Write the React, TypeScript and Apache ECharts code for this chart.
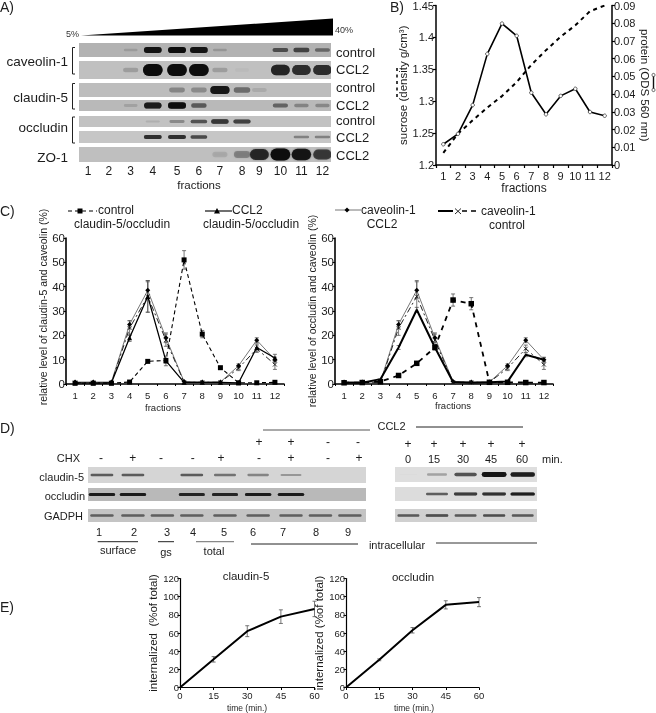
import React, { useEffect, useRef } from "react";
import * as echarts from "echarts";

const FONT = '"Liberation Sans", Arial, sans-serif';
const INK = "#1c1c1c";

// Panel A
const laneA = [1, 1.97, 2.99, 4.02, 5.15, 6.17, 7.15, 8.18, 8.99, 9.97, 10.95, 11.93];
const cavControl = [0, 0, 0.15, 0.95, 1, 0.95, 0.18, 0, 0, 0.55, 0.6, 0.42];
const cavCCL2 = [0, 0, 0.2, 1, 1, 1, 0.2, 0.05, 0, 0.85, 0.8, 0.8];
const claControl = [0, 0, 0, 0, 0.3, 0.28, 0.92, 0.42, 0.12, 0, 0, 0];
const claCCL2 = [0, 0, 0.15, 0.9, 1, 0.5, 0, 0, 0, 0.45, 0.3, 0.28];
const occControl = [0, 0, 0, 0.12, 0.3, 0.55, 0.75, 0.7, 0, 0, 0, 0];
const occCCL2 = [0, 0, 0, 0.8, 0.8, 0.6, 0, 0, 0, 0, 0.35, 0.35];
const zoCCL2 = [0, 0, 0, 0, 0, 0, 0.15, 0.35, 0.85, 1, 0.95, 0.75];

// Panel B
const fractions = ["1", "2", "3", "4", "5", "6", "7", "8", "9", "10", "11", "12"];
const sucrose = [1.219, 1.249, 1.27, 1.29, 1.308, 1.33, 1.357, 1.38, 1.401, 1.419, 1.441, 1.45];
const protein = [0.0117, 0.0176, 0.0338, 0.0627, 0.0798, 0.0729, 0.0408, 0.0286, 0.039, 0.043, 0.0299, 0.0278];

// Panel C
const ctrlClaudin = [0.3, 0.3, 0.3, 0.8, 9.3, 9.7, 51, 20.5, 6.7, 0.5, 0.5, 0.7];
const ctrlClaudinErr = [0, 0, 0, 0, 0, 0, 3.8, 1.5, 0, 0, 0, 0];
const ccl2Claudin = [0.5, 0.5, 0.5, 19, 36, 9.5, 0.7, 0.7, 0.7, 0.5, 15, 10.7];
const ccl2ClaudinErr = [0, 0, 0, 1.5, 6.5, 2, 0, 0, 0, 0, 1.5, 1.5];
const cavCcl2Line = [0.8, 0.8, 0.8, 24.5, 38.5, 19, 1, 0.8, 0.8, 7.5, 18, 10];
const cavCcl2Err = [0, 0, 0, 1.5, 3.5, 2, 0, 0, 0, 0.8, 1, 1];
const cavCtrlLine = [0.5, 0.5, 0.5, 23, 36, 18, 0.7, 0.7, 0.7, 6.5, 14.5, 8];
const cavCtrlErr = [0, 0, 0, 3, 6.5, 2.5, 0, 0, 0, 1, 1.5, 2];
const ctrlOccludin = [0.5, 0.6, 1, 3.5, 8.5, 15, 34.5, 33, 0.7, 0.7, 0.6, 0.6];
const ctrlOccludinErr = [0, 0, 0, 0, 0, 0, 2.5, 2.5, 0, 0, 0, 0];
const ccl2Occludin = [0.5, 0.5, 2, 15, 30.5, 15, 0.8, 0.5, 0.7, 1, 12, 10];
const ccl2OccludinErr = [0, 0, 0, 0.8, 1, 1, 0, 0, 0, 0, 0.8, 0.8];

// Panel D
const laneD = [1, 2, 2.95, 3.9, 4.97, 6.04, 7.1, 8.05, 9];
const dClaudin = [0.55, 0.55, 0, 0.55, 0.45, 0.38, 0.3, 0, 0];
const dOccludin = [0.9, 0.9, 0, 0.85, 0.85, 0.9, 0.9, 0, 0];
const dGadph = [0.5, 0.5, 0.5, 0.5, 0.5, 0.5, 0.5, 0.5, 0.5];
const timeLabels = ["0", "15", "30", "45", "60"];
const laneT = [1, 2, 3, 4, 5];
const tClaudin = [0.02, 0.28, 0.6, 0.95, 0.9];
const tOccludin = [0, 0.55, 0.75, 0.8, 0.9];
const tGadph = [0.55, 0.65, 0.55, 0.6, 0.55];

// Panel E
const times = [0, 15, 30, 45, 60];
const eClaudin = [0, 31, 62, 78, 86.5];
const eClaudinErr = [0, 3, 6, 7.5, 8.5];
const eOccludin = [0, 30.5, 63, 91, 94];
const eOccludinErr = [0, 1, 3, 4.5, 5];

const lineStyleAxis = (width = 1.5) => ({ color: "#000", width });

function errSeries(xi: number, yi: number, xs: number[], vals: number[], errs: number[], color: string) {
  const data = vals.map((v, i) => [xs[i], v, errs[i]]).filter((d) => d[2] > 0);
  return {
    type: "custom",
    xAxisIndex: xi,
    yAxisIndex: yi,
    silent: true,
    z: 2,
    encode: { x: 0, y: 1 },
    data,
    renderItem: (_p: any, api: any) => {
      const x = api.value(0), v = api.value(1), e = api.value(2);
      const a = api.coord([x, v + e]);
      const b = api.coord([x, v - e]);
      const st = { stroke: color, lineWidth: 0.8 };
      const cap = 2;
      return {
        type: "group",
        children: [
          { type: "line", shape: { x1: a[0], y1: a[1], x2: b[0], y2: b[1] }, style: st },
          { type: "line", shape: { x1: a[0] - cap, y1: a[1], x2: a[0] + cap, y2: a[1] }, style: st },
          { type: "line", shape: { x1: b[0] - cap, y1: b[1], x2: b[0] + cap, y2: b[1] }, style: st },
        ],
      };
    },
  };
}

function buildOption() {
  const grid: any[] = [], xAxis: any[] = [], yAxis: any[] = [], series: any[] = [], g: any[] = [];

  const addGrid = (gr: any, x: any, y: any) => {
    grid.push(gr);
    const gi = grid.length - 1;
    xAxis.push({ ...x, gridIndex: gi });
    yAxis.push({ ...y, gridIndex: gi });
    return { x: xAxis.length - 1, y: yAxis.length - 1 };
  };

  const T = (text: string, x: number, y: number, size: number, align = "left", fill = INK) =>
    g.push({
      type: "text",
      x,
      y,
      silent: true,
      style: { text, fill, textAlign: align, textVerticalAlign: "middle", verticalAlign: "middle", font: `${size}px ${FONT}` },
    });
  const L = (x1: number, y1: number, x2: number, y2: number, stroke = "#222", lineWidth = 1, lineDash?: number[]) =>
    g.push({ type: "line", silent: true, shape: { x1, y1, x2, y2 }, style: { stroke, lineWidth, lineDash } });
  const Poly = (points: number[][], fill: string) =>
    g.push({ type: "polygon", silent: true, shape: { points }, style: { fill } });

  const blot = (
    box: number[],
    bg: string,
    pos: number[],
    vals: number[],
    range: number[],
    rxLane: number,
    ryBase: number,
    ryGain: number,
    blur: number,
    withLabels = false
  ) => {
    const ax = addGrid(
      { left: box[0], top: box[1], width: box[2], height: box[3], show: true, backgroundColor: bg, borderWidth: 0 },
      withLabels
        ? {
            type: "value",
            min: range[0],
            max: range[1],
            axisLine: { show: false },
            axisTick: { show: false },
            splitLine: { show: false },
            axisLabel: {
              customValues: pos,
              formatter: (v: number) => String(Math.round(v)),
              color: INK,
              fontFamily: FONT,
              fontSize: 12,
              margin: 3,
            },
          }
        : { type: "value", show: false, min: range[0], max: range[1], splitLine: { show: false } },
      { type: "value", show: false, min: 0, max: 1, splitLine: { show: false } }
    );
    series.push({
      type: "custom",
      xAxisIndex: ax.x,
      yAxisIndex: ax.y,
      silent: true,
      clip: true,
      encode: { x: 0, y: 1 },
      data: pos.map((p, i) => [p, 0.5, vals[i]]).filter((d) => d[2] > 0),
      renderItem: (_p: any, api: any) => {
        const c = api.coord([api.value(0), api.value(1)]);
        const i = api.value(2);
        const lane = api.size([1, 0])[0];
        const rx = lane * rxLane * (0.72 + 0.28 * i);
        const ry = box[3] * (ryBase + ryGain * i);
        return {
          type: "rect",
          shape: { x: c[0] - rx, y: c[1] - ry, width: 2 * rx, height: 2 * ry, r: ry },
          style: {
            fill: "#0c0c0c",
            opacity: Math.min(1, Math.pow(i, 1.25)),
            shadowBlur: blur,
            shadowColor: "rgba(10,10,10,0.4)",
          },
        };
      },
    });
  };

  // ---- Panel A
  T("A)", 0, 7, 14);
  Poly([[81, 35.5], [333, 18.5], [333, 35.5]], "#000");
  T("5%", 79, 34, 9, "right", "#333");
  T("40%", 335, 30, 9, "left", "#333");
  const rA = [0.58, 12.33];
  blot([79, 43, 252, 14], "#b2b2b2", laneA, cavControl, rA, 0.42, 0.06, 0.16, 1.5);
  blot([79, 61, 252, 18], "#c0c0c0", laneA, cavCCL2, rA, 0.46, 0.08, 0.25, 1.5);
  blot([79, 83, 252, 14], "#bdbdbd", laneA, claControl, rA, 0.46, 0.12, 0.18, 1.5);
  blot([79, 100, 252, 11], "#b9b9b9", laneA, claCCL2, rA, 0.42, 0.1, 0.2, 1.5);
  blot([79, 116, 252, 11], "#c2c2c2", laneA, occControl, rA, 0.44, 0.08, 0.16, 1);
  blot([79, 131, 252, 12], "#c6c6c6", laneA, occCCL2, rA, 0.44, 0.06, 0.13, 1);
  blot([79, 147, 252, 15], "#bfbfbf", laneA, zoCCL2, rA, 0.46, 0.14, 0.26, 2, true);
  T("fractions", 199, 185, 11.5, "center");
  T("caveolin-1", 68, 61, 13.5, "right");
  T("claudin-5", 68, 97, 13.5, "right");
  T("occludin", 68, 127, 13.5, "right");
  T("ZO-1", 68, 157, 13.5, "right");
  ([["control", 52], ["CCL2", 69], ["control", 87], ["CCL2", 105], ["control", 120], ["CCL2", 137], ["CCL2", 155]] as [string, number][]).forEach(
    ([t, y]) => T(t, 336, y, 13)
  );
  ([[47.5, 74], [83.5, 109], [117, 143]] as number[][]).forEach(([a, b]) => {
    g.push({
      type: "polyline",
      silent: true,
      shape: { points: [[75, a], [72.5, a], [72.5, b], [75, b]] },
      style: { stroke: "#222", lineWidth: 1, fill: "none" },
    });
  });

  // ---- Panel B
  T("B)", 390, 7, 14);
  const axisB = {
    axisLine: { show: true, onZero: false, lineStyle: lineStyleAxis(1.5) },
    axisTick: { show: true, length: 3, lineStyle: lineStyleAxis(1.2) },
    splitLine: { show: false },
    axisLabel: { color: INK, fontFamily: FONT, fontSize: 11, margin: 2 },
  };
  const b = addGrid(
    { left: 436, top: 3.5, width: 176, height: 161.5 },
    {
      type: "category",
      data: fractions,
      ...axisB,
      axisTick: { ...axisB.axisTick, interval: 0 },
      axisLabel: { ...axisB.axisLabel, interval: 0, margin: 5 },
      name: "fractions",
      nameLocation: "middle",
      nameGap: 16,
      nameTextStyle: { color: INK, fontFamily: FONT, fontSize: 12 },
    },
    {
      type: "value",
      min: 1.2,
      max: 1.45,
      interval: 0.05,
      ...axisB,
      name: "sucrose (density g/cm³)",
      nameLocation: "middle",
      nameGap: 23,
      nameTextStyle: { color: INK, fontFamily: FONT, fontSize: 11.5 },
    }
  );
  yAxis.push({
    type: "value",
    gridIndex: grid.length - 1,
    position: "right",
    min: 0,
    max: 0.09,
    interval: 0.01,
    ...axisB,
    axisLabel: { ...axisB.axisLabel, formatter: (v: number) => (v === 0 ? "0" : v.toFixed(2)) },
    name: "protein (ODS 560 nm)",
    nameLocation: "middle",
    nameRotate: -90,
    nameGap: 24,
    nameTextStyle: { color: INK, fontFamily: FONT, fontSize: 11.5 },
  });
  const bRight = yAxis.length - 1;
  series.push({
    type: "line",
    xAxisIndex: b.x,
    yAxisIndex: b.y,
    data: sucrose,
    symbol: "none",
    lineStyle: { color: "#000", width: 2, type: [4, 4] },
  });
  series.push({
    type: "line",
    xAxisIndex: b.x,
    yAxisIndex: bRight,
    data: protein,
    symbol: "circle",
    symbolSize: 3.5,
    itemStyle: { color: "#fff", borderColor: "#222", borderWidth: 0.7 },
    lineStyle: { color: "#000", width: 1.6 },
  });
  L(397, 68, 397, 100, "#111", 1.6, [3, 3.5]);
  L(653.5, 74, 653.5, 91, "#111", 1.4);
  g.push({ type: "circle", silent: true, shape: { cx: 653.5, cy: 75, r: 1.6 }, style: { fill: "#fff", stroke: "#222", lineWidth: 0.7 } });
  g.push({ type: "circle", silent: true, shape: { cx: 653.5, cy: 90, r: 1.6 }, style: { fill: "#fff", stroke: "#222", lineWidth: 0.7 } });

  // ---- Panel C
  T("C)", 0, 211, 14);
  const xMark = "path://M0,0L10,10M10,0L0,10";
  const idx = fractions.map((_, i) => i);
  const chartC = (left: number, width: number, top: number, height: number, yName: string, gap: number, shift: number) =>
    addGrid(
      { left, top, width, height },
      {
        type: "category",
        data: fractions,
        axisLine: { show: true, onZero: false, lineStyle: lineStyleAxis(1.6) },
        axisTick: { show: true, interval: 0, length: 2, lineStyle: lineStyleAxis(1) },
        splitLine: { show: false },
        axisLabel: { interval: 0, color: INK, fontFamily: FONT, fontSize: 9.5, margin: 6 },
      },
      {
        type: "value",
        min: 0,
        max: 60,
        interval: 10,
        axisLine: { show: true, onZero: false, lineStyle: lineStyleAxis(1.6) },
        axisTick: { show: true, length: 2.5, lineStyle: lineStyleAxis(1) },
        splitLine: { show: false },
        axisLabel: { color: INK, fontFamily: FONT, fontSize: 11.5, margin: 1 },
        name: yName,
        nameLocation: "middle",
        nameGap: gap,
        nameTextStyle: { color: INK, fontFamily: FONT, fontSize: 10.5, padding: [0, 0, 0, shift] },
      }
    );
  const addLine = (ax: any, data: number[], color: string, width: number, type: any, symbol: string, size: number, hollow = false) =>
    series.push({
      type: "line",
      xAxisIndex: ax.x,
      yAxisIndex: ax.y,
      data,
      symbol,
      symbolSize: size,
      z: 3,
      itemStyle: hollow ? { color: "none", borderColor: "#111", borderWidth: 0.8 } : { color: "#000" },
      lineStyle: { color, width, type },
    });

  const c1 = chartC(66, 218, 238, 146, "relative level of claudin-5 and caveolin (%)", 15, 8);
  addLine(c1, cavCcl2Line, "#777", 1, "solid", "diamond", 5);
  addLine(c1, cavCtrlLine, "#222", 1, [6, 3, 2, 3], xMark, 4, true);
  addLine(c1, ccl2Claudin, "#000", 1.3, "solid", "triangle", 5);
  addLine(c1, ctrlClaudin, "#000", 1.1, [4, 3], "rect", 5);
  series.push(errSeries(c1.x, c1.y, idx, cavCcl2Line, cavCcl2Err, "#555"));
  series.push(errSeries(c1.x, c1.y, idx, cavCtrlLine, cavCtrlErr, "#555"));
  series.push(errSeries(c1.x, c1.y, idx, ccl2Claudin, ccl2ClaudinErr, "#555"));
  series.push(errSeries(c1.x, c1.y, idx, ctrlClaudin, ctrlClaudinErr, "#555"));
  T("fractions", 163, 407, 9.5, "center");

  const c2 = chartC(335, 218, 238, 146, "relative level of occludin and caveolin (%)", 15, 0);
  addLine(c2, cavCcl2Line, "#777", 1, "solid", "diamond", 5);
  addLine(c2, cavCtrlLine, "#222", 1, [6, 3, 2, 3], xMark, 4, true);
  addLine(c2, ccl2Occludin, "#000", 2, "solid", "none", 0);
  addLine(c2, ctrlOccludin, "#000", 1.8, [5, 5], "rect", 5.5);
  series.push(errSeries(c2.x, c2.y, idx, cavCcl2Line, cavCcl2Err, "#555"));
  series.push(errSeries(c2.x, c2.y, idx, cavCtrlLine, cavCtrlErr, "#555"));
  series.push(errSeries(c2.x, c2.y, idx, ccl2Occludin, ccl2OccludinErr, "#555"));
  series.push(errSeries(c2.x, c2.y, idx, ctrlOccludin, ctrlOccludinErr, "#555"));
  T("fractions", 453, 405, 9.5, "center");

  // C legends
  L(68, 211, 97, 211, "#000", 1.1, [4, 3]);
  g.push({ type: "rect", silent: true, shape: { x: 77.5, y: 208.5, width: 5, height: 5 }, style: { fill: "#000" } });
  T("control", 98, 210, 12);
  T("claudin-5/occludin", 74, 224, 12);
  L(205, 211, 232, 211, "#222", 1.3);
  Poly([[217, 208], [220, 213.5], [214, 213.5]], "#000");
  T("CCL2", 232, 210, 12);
  T("claudin-5/occludin", 203, 224, 12);
  L(335, 210, 361, 210, "#777", 1);
  Poly([[347, 207.5], [349.5, 210], [347, 212.5], [344.5, 210]], "#000");
  T("caveolin-1", 361, 210, 12);
  T("CCL2", 382, 224, 12, "center");
  L(438, 211, 453, 211, "#000", 2);
  L(455, 208.5, 461, 214, "#111", 0.9);
  L(461, 208.5, 455, 214, "#111", 0.9);
  L(462, 211, 478, 211, "#000", 1.6, [5, 4]);
  T("caveolin-1", 481, 211, 12);
  T("control", 507, 225, 12, "center");

  // ---- Panel D
  T("D)", 0, 428, 14);
  const rD = [0.55, 9.52];
  blot([88, 467, 278, 16], "#d5d5d5", laneD, dClaudin, rD, 0.42, 0.05, 0.06, 0.6);
  blot([88, 488, 278, 13], "#b9b9b9", laneD, dOccludin, rD, 0.44, 0.07, 0.06, 0.6);
  blot([88, 509, 278, 13], "#c4c4c4", laneD, dGadph, rD, 0.44, 0.07, 0.06, 0.6);
  const rT = [0.53, 5.5];
  blot([395, 467, 142, 15], "#dedede", laneT, tClaudin, rT, 0.44, 0.05, 0.12, 0.6);
  blot([395, 487, 142, 14], "#dcdcdc", laneT, tOccludin, rT, 0.44, 0.05, 0.07, 0.6);
  blot([395, 509, 142, 13], "#d0d0d0", laneT, tGadph, rT, 0.44, 0.06, 0.06, 0.6);

  T("CHX", 80, 458, 11, "right");
  T("claudin-5", 84, 477, 11, "right");
  T("occludin", 85, 496, 11, "right");
  T("GADPH", 83, 516, 11, "right");
  ([[259, "+"], [291, "+"], [328, "-"], [358, "-"]] as [number, string][]).forEach(([x, t]) => T(t, x, 441.5, 12, "center"));
  ([[101, "-"], [132.7, "+"], [161, "-"], [192.7, "-"], [221, "+"], [259, "-"], [291, "+"], [328, "-"], [359, "+"]] as [number, string][]).forEach(
    ([x, t]) => T(t, x, 457.5, 12, "center")
  );
  ([99, 134, 167, 193, 224, 253, 283, 316, 348] as number[]).forEach((x, i) => T(String(i + 1), x, 532, 11, "center"));
  L(97.7, 541.7, 138, 541.7, "#222");
  T("surface", 118, 550, 11, "center");
  L(158, 541.7, 174, 541.7, "#222");
  T("gs", 166, 552, 11, "center");
  L(196, 541.7, 234, 541.7, "#888", 1.2);
  T("total", 214, 551, 11, "center");
  L(251, 544, 358, 544, "#222");
  T("intracellular", 397, 545, 11, "center");
  L(436, 543, 537, 543, "#333");
  L(263, 430, 370, 430, "#555");
  T("CCL2", 391.5, 426, 11, "center");
  L(416, 427, 523, 427, "#222");
  ([408, 434, 463, 491, 522] as number[]).forEach((x, i) => {
    T("+", x, 444, 12, "center");
    T(timeLabels[i], x, 459, 11, "center");
  });
  T("min.", 542, 459, 11);

  // ---- Panel E
  T("E)", 0, 607, 14);
  const chartE = (left: number, width: number, name: string, vals: number[], errs: number[], title: string, cx: number, cy: number) => {
    const ax = addGrid(
      { left, top: 578.5, width, height: 109 },
      {
        type: "value",
        min: 0,
        max: 60,
        interval: 15,
        axisLine: { show: true, onZero: false, lineStyle: lineStyleAxis(1.2) },
        axisTick: { show: true, length: 2.5, lineStyle: lineStyleAxis(1) },
        splitLine: { show: false },
        axisLabel: { color: INK, fontFamily: FONT, fontSize: 9.5, margin: 3 },
      },
      {
        type: "value",
        min: 0,
        max: 120,
        interval: 20,
        axisLine: { show: true, onZero: false, lineStyle: lineStyleAxis(1.2) },
        axisTick: { show: true, length: 2.5, lineStyle: lineStyleAxis(1) },
        splitLine: { show: false },
        axisLabel: { color: INK, fontFamily: FONT, fontSize: 9.5, margin: 1 },
        name,
        nameLocation: "middle",
        nameGap: 12,
        nameTextStyle: { color: INK, fontFamily: FONT, fontSize: 11.5 },
      }
    );
    series.push({
      type: "line",
      xAxisIndex: ax.x,
      yAxisIndex: ax.y,
      data: times.map((t, i) => [t, vals[i]]),
      symbol: "none",
      z: 3,
      lineStyle: { color: "#000", width: 2 },
    });
    series.push(errSeries(ax.x, ax.y, times, vals, errs, "#555"));
    T(title, cx, cy, 11.5, "center");
    T("time (min.)", cx + 1, 708, 8.5, "center");
  };
  chartE(180, 134.5, "internalized  (%of total)", eClaudin, eClaudinErr, "claudin-5", 246, 576);
  chartE(346, 133, "internalized (%of total)", eOccludin, eOccludinErr, "occludin", 413, 577);

  return { animation: false, backgroundColor: "#fff", grid, xAxis, yAxis, series, graphic: { elements: g } };
}

export default function App() {
  const ref = useRef<HTMLDivElement>(null);
  useEffect(() => {
    const chart = echarts.init(ref.current!, undefined, { renderer: "svg" });
    chart.setOption(buildOption() as any);
    return () => chart.dispose();
  }, []);
  return <div ref={ref} style={{ position: "absolute", left: 0, top: 0, width: 656, height: 713, filter: "blur(0.4px)" }} />;
}
